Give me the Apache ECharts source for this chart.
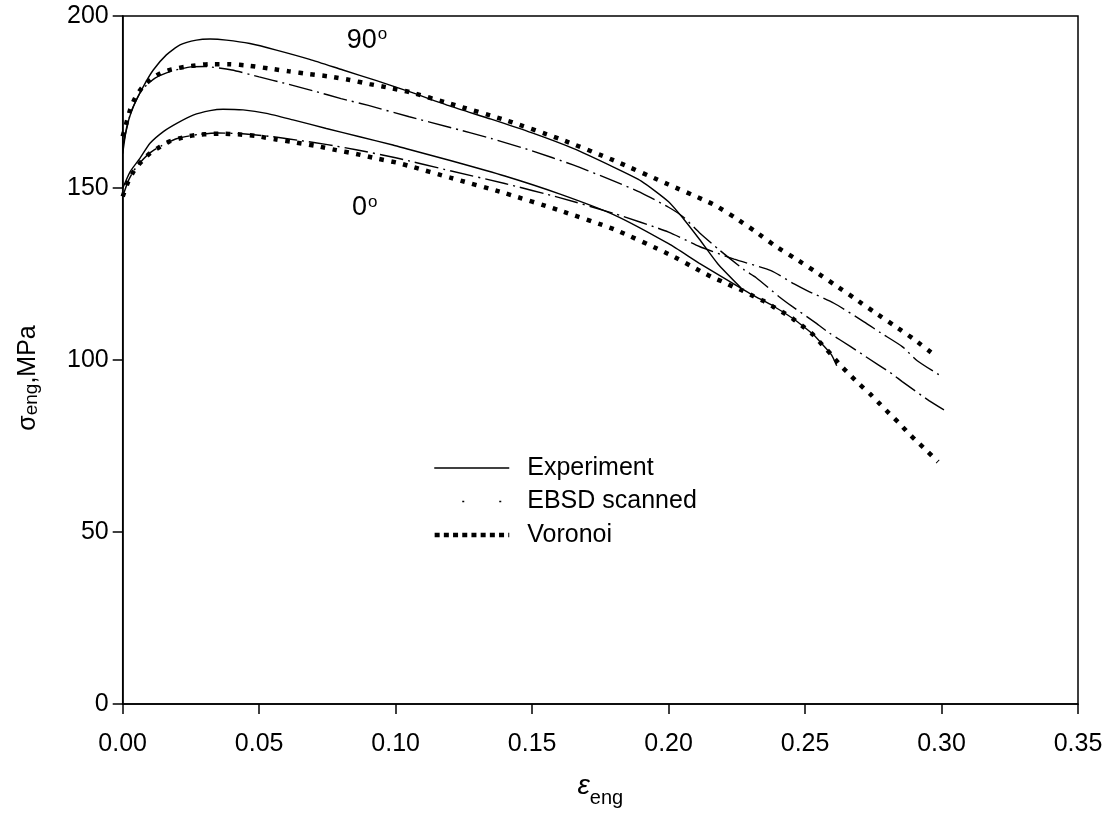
<!DOCTYPE html>
<html>
<head>
<meta charset="utf-8">
<script src="https://cdn.jsdelivr.net/npm/echarts@6/dist/echarts.min.js"></script>
<style>
html,body{margin:0;padding:0;background:#fff;}
#chart{width:1111px;height:821px;}
</style>
</head>
<body>
<div id="chart"></div>
<script>
// ---- data (strain, engineering stress in MPa) ----
const exp90X = [0,0.0015,0.0039,0.0075,0.0112,0.016,0.021,0.027,0.032,0.038,0.0466,0.0563,0.0685,0.0807,0.093,0.105,0.12,0.135,0.15,0.165,0.18,0.19,0.20,0.2055,0.2113,0.218,0.2265];
const exp90Y = [160,167.8,173.6,179.4,184.3,188.7,191.6,193,193.3,193,192,190.1,187.4,184.3,181.2,178,173.8,170,166,161.5,156,152,146,141,135.1,128,121];

const exp0X = [0,0.0027,0.0063,0.01,0.0149,0.0198,0.0258,0.032,0.0368,0.0441,0.0527,0.0624,0.0746,0.0868,0.099,0.105,0.12,0.14,0.16,0.18,0.20,0.2113,0.226,0.231,0.2383,0.2457,0.2493,0.253,0.2563,0.2597,0.2616];
const exp0Y = [149.9,154.7,158.6,163,166.4,168.8,171.2,172.5,172.9,172.7,171.7,169.8,167.3,164.9,162.5,161.2,158,153.5,148.3,142.2,133.8,128.1,121.1,118.8,115.7,112,109.8,107.4,104.6,101.5,98.3];

const ebsd90X = [0,0.003,0.007,0.012,0.018,0.025,0.03,0.04,0.05,0.06,0.07,0.08,0.09,0.105,0.12,0.135,0.15,0.165,0.18,0.19,0.20,0.2055,0.2113,0.2186,0.2277,0.232,0.2405,0.2454,0.2539,0.2588,0.2667,0.2722,0.282,0.2856,0.2954,0.3009];
const ebsd90Y = [162,172,178.5,182,184,185.2,185.3,184.3,182.3,180.3,178.2,176,174,170.7,167.6,164.4,160.8,156.7,152,148.6,144.4,141.5,137,132,126.2,124,118.4,115.5,110.8,107.9,103.9,101,95.9,93.7,88.2,85.5];

const ebsd0X = [0,0.002,0.004,0.0065,0.01,0.014,0.02,0.028,0.035,0.045,0.055,0.065,0.075,0.085,0.10,0.12,0.14,0.16,0.18,0.20,0.2113,0.224,0.2375,0.246,0.2509,0.2606,0.2716,0.2777,0.2856,0.2911,0.3003];
const ebsd0Y = [147.5,152,155,157.5,160.2,162.2,164.4,165.6,166,165.7,164.9,163.8,162.6,161.2,158.8,155,151.3,147.2,142.6,137.2,133,129.3,126,122.1,120.1,116.5,111.1,107.9,103.9,99.8,95.1];

const vor90X = [0,0.0027,0.0045,0.0069,0.01,0.0137,0.0179,0.0252,0.032,0.039,0.0466,0.054,0.061,0.0686,0.0759,0.0832,0.0905,0.0978,0.105,0.12,0.14,0.16,0.18,0.20,0.213,0.2172,0.2245,0.2317,0.239,0.2462,0.2534,0.2606,0.268,0.2752,0.2825,0.2896,0.297];
const vor90Y = [165,172.7,176.1,179,181.4,183.3,184.5,185.5,186,186,185.5,184.7,183.9,183.1,182.4,181.4,180.2,179.1,177.9,174.5,169.8,164.3,158,151,146.5,144.9,141.3,137.4,133.2,129.6,125.9,122,118,114,110.1,106.2,101.7];

const vor0X = [0,0.002,0.0039,0.0063,0.01,0.0137,0.017,0.0207,0.0244,0.028,0.032,0.0356,0.0423,0.049,0.0563,0.0637,0.071,0.0783,0.0856,0.0929,0.1003,0.105,0.12,0.14,0.16,0.18,0.20,0.2127,0.2164,0.22,0.2237,0.2273,0.231,0.2347,0.2383,0.242,0.2457,0.2493,0.253,0.2563,0.2597,0.2628,0.2664,0.27,0.2737,0.2772,0.2808,0.2844,0.2878,0.2914,0.295,0.2987];
const vor0Y = [147.5,151.8,154.7,157.2,160.1,162,163.5,164.4,165.1,165.5,165.7,165.8,165.6,165.1,164.1,163.2,162.2,161,159.9,158.6,157.4,156.4,153,148.5,143.5,138,130.8,125.4,123.9,122.7,121.3,120.1,118.6,117.2,115.5,113.8,111.9,109.7,107.3,104.4,101.5,98.6,95.7,92.9,90.2,87.4,84.5,81.7,78.8,76,73.3,70.4];

const seriesNames = ['Experiment', 'EBSD scanned', 'Voronoi'];
const annotationText = ['90', '0'];
const annotationX = [0.0895, 0.0887];
const annotationY = [193, 144.2];

const xTicks = {min: 0, max: 0.35, interval: 0.05};
const yTicks = {min: 0, max: 200, interval: 50};

// ---- build ----
const pair = (xs, ys) => xs.map((x, i) => [x, ys[i]]);
const FONT = '"Liberation Sans", Arial, sans-serif';

const expStyle = {color: '#000', width: 1.4, type: 'solid'};
const ebsdStyle = {color: '#000', width: 1.4, type: [24, 5, 2, 5]};
const vorStyle = {color: '#000', width: 4.5, type: [4.5, 7.5], cap: 'butt'};
const noIcon = {color: 'rgba(0,0,0,0)', borderColor: 'rgba(0,0,0,0)', borderWidth: 0, opacity: 0};

function lineSeries(name, data, style, z) {
  return {
    name: name, type: 'line', data: data, symbol: 'none', smooth: 0.2,
    lineStyle: style, itemStyle: {color: '#000'}, z: z, animation: false,
    emphasis: {disabled: true}
  };
}

const chart = echarts.init(document.getElementById('chart'), null, {renderer: 'canvas'});
chart.setOption({
  backgroundColor: '#fff',
  animation: false,
  textStyle: {fontFamily: FONT, color: '#000'},
  grid: {left: 122.7, right: 33, top: 16, bottom: 117, show: true, borderColor: '#000', borderWidth: 1.5},
  legend: {
    left: 432, top: 455.5, orient: 'vertical', padding: 0,
    itemWidth: 75, itemHeight: 14, itemGap: 8.5,
    itemStyle: noIcon,
    textStyle: {fontSize: 25, fontFamily: FONT, color: '#000', lineHeight: 25, padding: [0, 0, 0, 13]},
    data: [
      {name: seriesNames[0], itemStyle: noIcon, lineStyle: {width: 1.4, type: 'solid', color: '#000'}},
      {name: seriesNames[1], itemStyle: noIcon, lineStyle: {width: 1.6, type: [2, 35], dashOffset: -28, color: '#000'}},
      {name: seriesNames[2], itemStyle: noIcon, lineStyle: {width: 4.5, type: [5, 4.2], cap: 'butt', color: '#000'}}
    ]
  },
  xAxis: {
    type: 'value', min: xTicks.min, max: xTicks.max, interval: xTicks.interval,
    axisLine: {show: true, onZero: false, lineStyle: {color: '#000', width: 1.5}},
    axisTick: {show: true, inside: false, length: 10, lineStyle: {color: '#000', width: 1.5}},
    axisLabel: {fontSize: 25, color: '#000', fontFamily: FONT, margin: 28, formatter: v => v.toFixed(2)},
    splitLine: {show: false},
    name: '{m|ε}{s|eng}', nameLocation: 'middle', nameGap: 68,
    nameTextStyle: {
      rich: {
        m: {fontSize: 28, fontFamily: FONT, color: '#000', fontStyle: 'italic', padding: [0, 0, 24, 0]},
        s: {fontSize: 20, fontFamily: FONT, color: '#000'}
      }
    }
  },
  yAxis: {
    type: 'value', min: yTicks.min, max: yTicks.max, interval: yTicks.interval,
    axisLine: {show: true, onZero: false, lineStyle: {color: '#000', width: 1.5}},
    axisTick: {show: true, inside: false, length: 10, lineStyle: {color: '#000', width: 1.5}},
    axisLabel: {fontSize: 25, color: '#000', fontFamily: FONT, margin: 14},
    splitLine: {show: false},
    name: '{m|σ}{s|eng}{m|,MPa}', nameLocation: 'middle', nameGap: 74,
    nameTextStyle: {
      padding: [0, 36, 0, 0],
      rich: {
        m: {fontSize: 25, fontFamily: FONT, color: '#000', padding: [0, 0, 8, 0]},
        s: {fontSize: 19, fontFamily: FONT, color: '#000'}
      }
    }
  },
  series: [
    lineSeries(seriesNames[0], pair(exp90X, exp90Y), expStyle, 3),
    lineSeries(seriesNames[0], pair(exp0X, exp0Y), expStyle, 3),
    lineSeries(seriesNames[1], pair(ebsd90X, ebsd90Y), ebsdStyle, 2),
    lineSeries(seriesNames[1], pair(ebsd0X, ebsd0Y), ebsdStyle, 2),
    lineSeries(seriesNames[2], pair(vor90X, vor90Y), vorStyle, 4),
    lineSeries(seriesNames[2], pair(vor0X, vor0Y), vorStyle, 4),
    {
      name: 'annotations', type: 'scatter', symbolSize: 0, silent: true, z: 5,
      itemStyle: {opacity: 1, color: '#000'},
      emphasis: {disabled: true},
      data: annotationText.map((t, i) => ({value: [annotationX[i], annotationY[i]], name: t})),
      label: {
        show: true, position: 'inside', color: '#000', opacity: 1,
        formatter: p => '{a|' + p.name + '}{s|o}',
        rich: {
          a: {fontSize: 27, fontFamily: FONT, color: '#000'},
          s: {fontSize: 17, fontFamily: FONT, color: '#000', padding: [0, 0, 12, 1]}
        }
      }
    }
  ]
});
</script>
</body>
</html>
